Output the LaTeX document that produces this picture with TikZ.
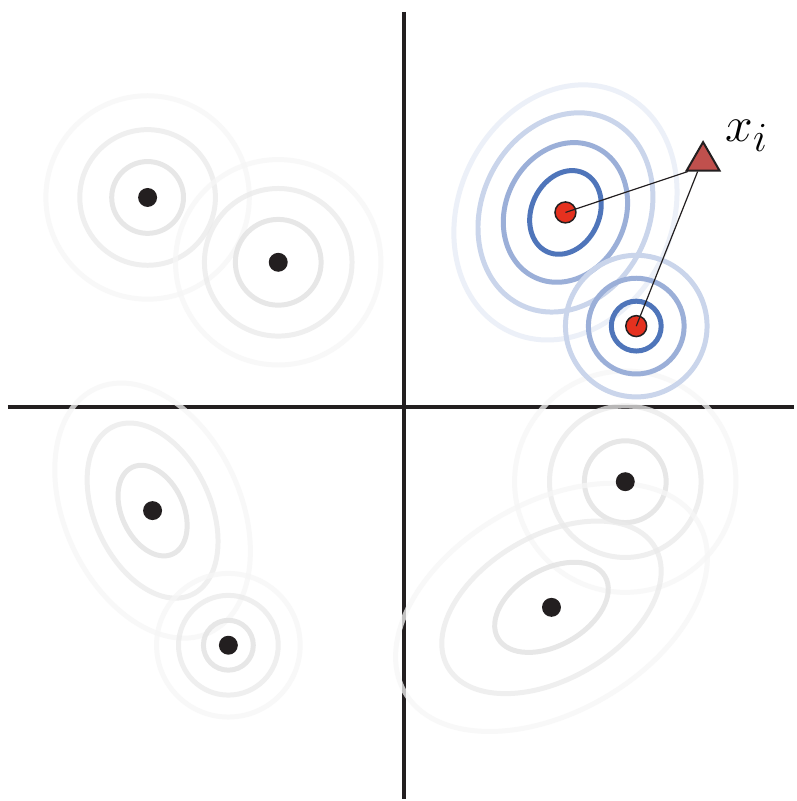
\documentclass[tikz,border=0pt]{standalone}
\usepackage{amsmath}
\usetikzlibrary{shapes.geometric,calc}
\definecolor{Ink}{HTML}{231F20}
\definecolor{BlueA}{HTML}{4F75BA}
\definecolor{BlueB}{HTML}{9BAFD8}
\definecolor{BlueC}{HTML}{CAD5EB}
\definecolor{BlueD}{HTML}{ECF0F8}
\definecolor{GreyA}{HTML}{E0E0E0}
\definecolor{GreyB}{HTML}{EAEAEA}
\definecolor{GreyC}{HTML}{F6F6F6}
\definecolor{Fire}{HTML}{E5311F}
\definecolor{Brick}{HTML}{C0504D}
\tikzset{
  axis/.style={draw=Ink,line width=2.2pt},
  ring/.style={line width=2.5pt,opacity=.75},
  bring/.style={line width=2.5pt},
  mu/.style={circle,fill=Ink,minimum size=9.5pt,inner sep=0pt},
  hot/.style={circle,fill=Fire,draw=Ink,line width=.75pt,minimum size=10.5pt,inner sep=0pt},
  query/.style={regular polygon,regular polygon sides=3,fill=Brick,draw=Ink,line width=1pt,minimum size=19pt,inner sep=0pt},
  link/.style={draw=Ink,line width=.6pt},
  lab/.style={font=\fontsize{27.5}{32}\selectfont,inner sep=0pt}
}

\begin{document}
\begin{tikzpicture}[x=.5pt,y=-.5pt]
  \fill[white] (0,0) rectangle (796,801);
  \draw[axis] (405,12) -- (405,801);
  \draw[axis] (8,408) -- (796,408);
  % grey components
  \draw[ring,GreyC] (148,198) circle[radius=102];
  \draw[ring,GreyB] (148,198) circle[radius=68];
  \draw[ring,GreyA] (148,198) circle[radius=36];
  \draw[ring,GreyC] (279,263) circle[radius=103];
  \draw[ring,GreyB] (279,263) circle[radius=74];
  \draw[ring,GreyA] (279,263) circle[radius=43];
  \draw[ring,GreyC] (153,512) circle[x radius=88,y radius=135,rotate=25];
  \draw[ring,GreyB] (153,512) circle[x radius=58,y radius=93,rotate=25];
  \draw[ring,GreyA] (153,512) circle[x radius=31,y radius=48,rotate=25];
  \draw[ring,GreyC] (229,647) circle[radius=72];
  \draw[ring,GreyB] (229,647) circle[radius=50];
  \draw[ring,GreyA] (229,647) circle[radius=25];
  \draw[ring,GreyC] (627,483) circle[radius=111];
  \draw[ring,GreyB] (627,483) circle[radius=76];
  \draw[ring,GreyA] (627,483) circle[radius=41];
  \draw[ring,GreyC] (553,609) circle[x radius=170,y radius=105,rotate=30];
  \draw[ring,GreyB] (553,609) circle[x radius=120,y radius=72,rotate=30];
  \draw[ring,GreyA] (553,609) circle[x radius=62,y radius=38,rotate=30];
  % blue components
  \draw[bring,BlueD] (567,213) circle[x radius=107,y radius=132,rotate=-25];
  \draw[bring,BlueC] (567,213) circle[x radius=84,y radius=103,rotate=-25];
  \draw[bring,BlueB] (567,213) circle[x radius=60,y radius=72,rotate=-25];
  \draw[bring,BlueA] (567,213) circle[x radius=34,y radius=43.5,rotate=-25];
  \draw[bring,BlueC] (638,327) circle[radius=71];
  \draw[bring,BlueB] (638,327) circle[radius=48];
  \draw[bring,BlueA] (638,327) circle[radius=25];

  \node[mu] (muC) at (148,198) {};
  \node[mu] (muD) at (279,263) {};
  \node[mu] (muE) at (153,512) {};
  \node[mu] (muF) at (229,647) {};
  \node[mu] (muG) at (627,483) {};
  \node[mu] (muH) at (553,609) {};
  \node[hot] (muA) at (567,213) {};
  \node[hot] (muB) at (638,327) {};
  \node[query] (xi) at (705,161.5) {};
  \node[lab,anchor=base west] (xlab) at (727,142) {$x_i$};
  \draw[link] (muA.center) -- ($(xi.corner 2)!.08!(xi.corner 3)$);
  \draw[link] (muB.center) -- ($(xi.corner 2)!.35!(xi.corner 3)$);
\end{tikzpicture}
\end{document}
